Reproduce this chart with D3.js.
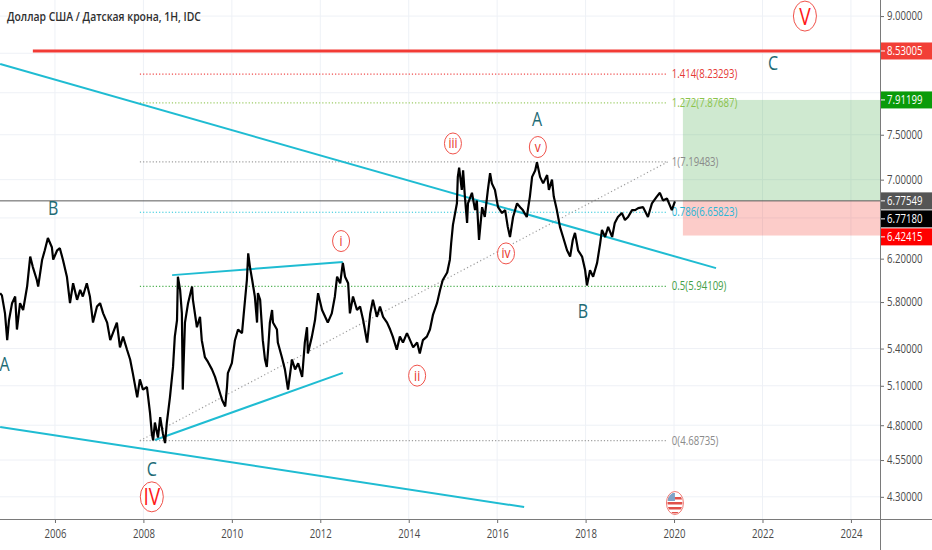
<!DOCTYPE html>
<html>
<head>
<meta charset="utf-8">
<script src="https://cdn.jsdelivr.net/npm/d3@7"></script>
<style>
  body { margin: 0; background: #fff; }
  svg { display: block; font-family: "Open Sans", sans-serif; }
</style>
</head>
<body>
<svg id="chart" width="932" height="550"></svg>
<script>
var title = "Доллар США / Датская крона, 1H, IDC";

// price path (decimal year, DKK per USD)
var priceYears = [
  2004.76, 2004.80, 2004.87, 2004.92, 2004.96, 2005.03, 2005.10, 2005.14, 2005.21, 2005.28,
  2005.37, 2005.44, 2005.50, 2005.59, 2005.62, 2005.71, 2005.77, 2005.84, 2005.93, 2005.96,
  2006.05, 2006.11, 2006.18, 2006.27, 2006.34, 2006.41, 2006.50, 2006.57, 2006.63, 2006.72,
  2006.79, 2006.86, 2006.95, 2007.02, 2007.09, 2007.18, 2007.25, 2007.31, 2007.40, 2007.47,
  2007.54, 2007.63, 2007.70, 2007.76, 2007.86, 2007.92, 2007.99, 2008.08, 2008.15, 2008.19,
  2008.22, 2008.26, 2008.33, 2008.38, 2008.44, 2008.49, 2008.53, 2008.60, 2008.67, 2008.71,
  2008.76, 2008.78, 2008.83, 2008.87, 2008.89, 2008.94, 2009.01, 2009.10, 2009.12, 2009.21,
  2009.28, 2009.32, 2009.39, 2009.46, 2009.55, 2009.62, 2009.69, 2009.78, 2009.85, 2009.89,
  2009.91, 2010.00, 2010.07, 2010.14, 2010.23, 2010.27, 2010.34, 2010.37, 2010.41, 2010.46,
  2010.52, 2010.57, 2010.59, 2010.64, 2010.70, 2010.75, 2010.79, 2010.82, 2010.86, 2010.91,
  2010.93, 2011.02, 2011.04, 2011.13, 2011.20, 2011.27, 2011.36, 2011.43, 2011.50, 2011.59,
  2011.65, 2011.70, 2011.72, 2011.81, 2011.88, 2011.95, 2012.04, 2012.11, 2012.17, 2012.26,
  2012.33, 2012.38, 2012.45, 2012.51, 2012.56, 2012.63, 2012.67, 2012.74, 2012.83, 2012.90,
  2012.97, 2013.06, 2013.13, 2013.19, 2013.28, 2013.35, 2013.42, 2013.51, 2013.58, 2013.64,
  2013.73, 2013.80, 2013.87, 2013.96, 2014.03, 2014.10, 2014.19, 2014.25, 2014.32, 2014.41,
  2014.48, 2014.55, 2014.64, 2014.71, 2014.77, 2014.87, 2014.93, 2014.96, 2015.00, 2015.09,
  2015.11, 2015.14, 2015.20, 2015.23, 2015.27, 2015.32, 2015.34, 2015.43, 2015.50, 2015.54,
  2015.59, 2015.66, 2015.72, 2015.79, 2015.84, 2015.88, 2015.95, 2016.02, 2016.11, 2016.18,
  2016.24, 2016.29, 2016.36, 2016.45, 2016.52, 2016.58, 2016.67, 2016.74, 2016.79, 2016.86,
  2016.90, 2016.97, 2017.04, 2017.13, 2017.17, 2017.24, 2017.28, 2017.35, 2017.42, 2017.49,
  2017.58, 2017.65, 2017.71, 2017.76, 2017.83, 2017.92, 2017.99, 2018.03, 2018.10, 2018.17,
  2018.26, 2018.33, 2018.37, 2018.44, 2018.51, 2018.60, 2018.66, 2018.73, 2018.82, 2018.89,
  2018.96, 2019.05, 2019.12, 2019.19, 2019.30, 2019.41, 2019.50, 2019.61, 2019.68, 2019.75,
  2019.84, 2019.95, 2020.02
];
var priceValues = [
  5.88, 5.86, 5.70, 5.47, 5.64, 5.79, 5.85, 5.56, 5.79, 5.73,
  5.94, 6.22, 6.12, 6.00, 5.94, 6.19, 6.28, 6.40, 6.31, 6.19,
  6.28, 6.30, 6.19, 6.03, 5.79, 5.97, 5.82, 5.91, 5.85, 5.97,
  5.85, 5.62, 5.76, 5.79, 5.70, 5.62, 5.47, 5.53, 5.62, 5.41,
  5.50, 5.39, 5.31, 5.20, 5.01, 5.15, 5.07, 5.09, 4.89, 4.74,
  4.69, 4.82, 4.71, 4.86, 4.74, 4.67, 4.82, 5.01, 5.25, 5.50,
  5.64, 6.03, 5.91, 5.70, 5.07, 5.62, 5.79, 5.94, 5.82, 5.58,
  5.67, 5.47, 5.33, 5.29, 5.23, 5.17, 5.09, 4.99, 4.94, 5.09,
  5.20, 5.28, 5.47, 5.56, 5.53, 5.70, 6.00, 6.25, 6.12, 6.00,
  5.85, 5.62, 5.88, 5.82, 5.47, 5.31, 5.25, 5.39, 5.62, 5.73,
  5.62, 5.56, 5.45, 5.33, 5.23, 5.07, 5.31, 5.23, 5.28, 5.17,
  5.45, 5.58, 5.36, 5.50, 5.64, 5.88, 5.73, 5.67, 5.62, 5.70,
  5.85, 6.03, 5.97, 6.16, 6.03, 5.97, 5.70, 5.85, 5.73, 5.76,
  5.64, 5.45, 5.70, 5.82, 5.67, 5.76, 5.67, 5.62, 5.56, 5.50,
  5.39, 5.50, 5.45, 5.53, 5.47, 5.41, 5.45, 5.36, 5.47, 5.50,
  5.56, 5.69, 5.79, 5.91, 6.00, 6.07, 6.19, 6.35, 6.53, 6.75,
  7.03, 7.13, 6.89, 7.10, 6.82, 6.55, 6.75, 6.86, 6.68, 6.78,
  6.38, 6.71, 6.61, 6.89, 7.07, 6.96, 6.89, 6.71, 6.65, 6.68,
  6.51, 6.41, 6.61, 6.75, 6.71, 6.68, 6.61, 6.82, 7.03, 7.10,
  7.19, 7.03, 6.96, 7.05, 6.89, 7.00, 6.82, 6.68, 6.51, 6.41,
  6.28, 6.22, 6.38, 6.45, 6.28, 6.22, 6.09, 5.95, 6.09, 6.03,
  6.16, 6.35, 6.48, 6.41, 6.51, 6.41, 6.55, 6.61, 6.65, 6.58,
  6.61, 6.68, 6.68, 6.70, 6.71, 6.61, 6.75, 6.82, 6.86, 6.78,
  6.80, 6.68, 6.77
];

var yearTicks = [2006, 2008, 2010, 2012, 2014, 2016, 2018, 2020, 2022, 2024];
var gridPrices = [9.0, 8.5, 8.0, 7.5, 7.0, 6.6, 6.2, 5.8, 5.4, 5.1, 4.8, 4.55, 4.3];
// the 8.5, 8.0 and 6.6 labels sit under the price tags, so only these are written
var priceTicks = [9.0, 7.5, 7.0, 6.2, 5.8, 5.4, 5.1, 4.8, 4.55, 4.3];

// fibonacci extension drawn between the 2008 low and the 2017 high
var fibRatios = ["1.414", "1.272", "1", "0.786", "0.5", "0"];
var fibPrices = [8.23293, 7.87687, 7.19483, 6.65823, 5.94109, 4.68735];
var fibColors = ["#ef4a4a", "#9ccc65", "#9e9e9e", "#26c6da", "#4caf50", "#9e9e9e"];
var fibLabelColors = ["#e53935", "#8bc34a", "#8a8a8a", "#29b6d6", "#43a047", "#8a8a8a"];
var fibAnchorYears = [2007.92, 2019.86];

// trendlines: [year1, price1, year2, price2]
var channelUpper = [2004.76, 8.36, 2020.95, 6.11];
var channelLower = [2004.76, 4.787, 2016.61, 4.233];
var triangleUpper = [2008.65, 6.045, 2012.51, 6.168];
var triangleLower = [2008.26, 4.692, 2012.51, 5.202];

var resistanceLevel = 8.53005, resistanceStart = 2005.50;
var entryPrice = 6.77549, targetPrice = 7.91199, stopPrice = 6.42415;
var positionStart = 2020.20;
var lastPrice = 6.77180;
var eventYear = 2020.02;

// Elliott wave labels
var waveNames = ["A", "B", "C", "A", "B", "C"];
var waveYears = [2004.86, 2005.96, 2008.19, 2016.90, 2017.94, 2022.24];
var wavePrices = [5.27, 6.70, 4.49, 7.68, 5.72, 8.37];

var minorNames = ["i", "ii", "iii", "iv", "v"];
var minorYears = [2012.47, 2014.19, 2015.00, 2016.20, 2016.92];
var minorPrices = [6.37, 5.18, 7.40, 6.25, 7.36];

var majorNames = ["IV", "V"];
var majorYears = [2008.19, 2022.96];
var majorPrices = [4.30, 9.00];

var W = 932, H = 550, plotW = 880, plotH = 519;
var svg = d3.select("#chart");

var x = d3.scaleLinear().domain([2004.757, 2004.757 + plotW / 44.22]).range([0, plotW]);
var y = d3.scaleLog().domain([4.156, 9.225]).range([plotH, 0]);

function squeezed(parent, px, py, str) {
  return parent.append("text")
    .attr("transform", "translate(" + px + "," + py + ") scale(0.8,1)")
    .text(str);
}

svg.append("defs").append("clipPath").attr("id", "plotClip")
  .append("rect").attr("width", plotW).attr("height", plotH);

// grid
var grid = svg.append("g").attr("clip-path", "url(#plotClip)");
grid.selectAll("line.gx").data(yearTicks).enter().append("line")
  .attr("x1", d => x(d)).attr("x2", d => x(d)).attr("y1", 0).attr("y2", plotH)
  .attr("stroke", "#eef1f6");
grid.selectAll("line.gy").data(gridPrices).enter().append("line")
  .attr("x1", 0).attr("x2", plotW).attr("y1", d => y(d)).attr("y2", d => y(d))
  .attr("stroke", "#eef1f6");

var plot = svg.append("g").attr("clip-path", "url(#plotClip)");

// long/short position boxes
plot.append("rect")
  .attr("x", x(positionStart)).attr("y", y(targetPrice))
  .attr("width", plotW - x(positionStart)).attr("height", y(entryPrice) - y(targetPrice))
  .attr("fill", "rgba(76,175,80,0.27)");
plot.append("rect")
  .attr("x", x(positionStart)).attr("y", y(entryPrice))
  .attr("width", plotW - x(positionStart)).attr("height", y(stopPrice) - y(entryPrice))
  .attr("fill", "rgba(244,67,54,0.27)");

// fib levels
fibPrices.forEach(function (p, i) {
  plot.append("line")
    .attr("x1", x(fibAnchorYears[0])).attr("x2", x(fibAnchorYears[1]))
    .attr("y1", y(p)).attr("y2", y(p))
    .attr("stroke", fibColors[i]).attr("stroke-width", 1.2)
    .attr("stroke-dasharray", "1.2,2");
  squeezed(plot, x(fibAnchorYears[1]) + 4, y(p) + 4, fibRatios[i] + "(" + p.toFixed(5) + ")")
    .attr("fill", fibLabelColors[i]).attr("font-size", 12);
});
plot.append("line")
  .attr("x1", x(fibAnchorYears[0])).attr("y1", y(fibPrices[5]))
  .attr("x2", x(fibAnchorYears[1])).attr("y2", y(fibPrices[2]))
  .attr("stroke", "#9e9e9e").attr("stroke-width", 1.2).attr("stroke-dasharray", "1.2,2.5");

// entry line across the chart
plot.append("line")
  .attr("x1", 0).attr("x2", plotW).attr("y1", y(entryPrice)).attr("y2", y(entryPrice))
  .attr("stroke", "#5a5a5a").attr("stroke-width", 1);

// resistance
plot.append("line")
  .attr("x1", x(resistanceStart)).attr("x2", plotW)
  .attr("y1", y(resistanceLevel)).attr("y2", y(resistanceLevel))
  .attr("stroke", "#f23b35").attr("stroke-width", 3);

// trendlines
[channelUpper, channelLower, triangleUpper, triangleLower].forEach(function (t) {
  plot.append("line")
    .attr("x1", x(t[0])).attr("y1", y(t[1]))
    .attr("x2", x(t[2])).attr("y2", y(t[3]))
    .attr("stroke", "#1fbcd2").attr("stroke-width", 2);
});

// price
var line = d3.line()
  .x(function (d, i) { return x(priceYears[i]); })
  .y(function (d) { return y(d); });
plot.append("path")
  .datum(priceValues)
  .attr("d", line)
  .attr("fill", "none")
  .attr("stroke", "#000")
  .attr("stroke-width", 2.2)
  .attr("stroke-linejoin", "bevel");

// wave labels
waveNames.forEach(function (n, i) {
  squeezed(plot, x(waveYears[i]), y(wavePrices[i]) + 7, n)
    .attr("text-anchor", "middle").attr("font-size", 20).attr("fill", "#1e6b75");
});
minorNames.forEach(function (n, i) {
  var g = plot.append("g").attr("transform", "translate(" + x(minorYears[i]) + "," + y(minorPrices[i]) + ")");
  g.append("ellipse").attr("rx", 8.5).attr("ry", 10.5)
    .attr("fill", "#fff").attr("stroke", "#f0524a").attr("stroke-width", 1);
  squeezed(g, 0, 5, n).attr("text-anchor", "middle").attr("font-size", 15).attr("fill", "#e8322b");
});
majorNames.forEach(function (n, i) {
  var g = plot.append("g").attr("transform", "translate(" + x(majorYears[i]) + "," + y(majorPrices[i]) + ")");
  g.append("ellipse").attr("rx", 11.5).attr("ry", 15)
    .attr("fill", "#fff").attr("stroke", "#f0524a").attr("stroke-width", 1);
  squeezed(g, 0, 8.5, n).attr("text-anchor", "middle").attr("font-size", 24).attr("fill", "#ff1a1a");
});

// event flag
var flag = plot.append("g").attr("transform", "translate(" + x(eventYear) + "," + (plotH - 16) + ")");
flag.append("clipPath").attr("id", "flagClip")
  .append("ellipse").attr("rx", 7.5).attr("ry", 10.5);
var fl = flag.append("g").attr("clip-path", "url(#flagClip)");
fl.append("rect").attr("x", -9).attr("y", -12).attr("width", 18).attr("height", 24).attr("fill", "#fff");
[-6, -1, 4, 9].forEach(function (s) {
  fl.append("rect").attr("x", -9).attr("y", s).attr("width", 18).attr("height", 2.5).attr("fill", "#e0504a");
});
fl.append("rect").attr("x", -9).attr("y", -10).attr("width", 9).attr("height", 8).attr("fill", "#7fa3c8");
flag.append("ellipse").attr("rx", 8.5).attr("ry", 11.5)
  .attr("fill", "none").attr("stroke", "#f07a74").attr("stroke-width", 1);

// axes
var yAxis = svg.append("g").attr("transform", "translate(" + plotW + ",0)")
  .call(d3.axisRight(y).tickValues(priceTicks).tickFormat(d3.format(".5f")).tickSize(4).tickPadding(3));
var xAxis = svg.append("g").attr("transform", "translate(0," + plotH + ")")
  .call(d3.axisBottom(x).tickValues(yearTicks).tickFormat(d3.format("d")).tickSize(4).tickPadding(6));

[yAxis, xAxis].forEach(function (a) {
  a.select(".domain").remove();
  a.selectAll(".tick line").attr("stroke", "#6b6b6b");
  a.selectAll(".tick text").attr("fill", "#4a4a4a").attr("font-size", 12)
    .attr("font-family", "'Open Sans', sans-serif");
});
yAxis.selectAll(".tick text").attr("x", 7 / 0.8).attr("transform", "scale(0.8,1)");
xAxis.selectAll(".tick text").attr("transform", "scale(0.8,1)");

svg.append("line").attr("x1", plotW + 0.5).attr("x2", plotW + 0.5).attr("y1", 0).attr("y2", H)
  .attr("stroke", "#7a7a7a");
svg.append("line").attr("x1", 0).attr("x2", W).attr("y1", plotH + 0.5).attr("y2", plotH + 0.5)
  .attr("stroke", "#7a7a7a");

// price labels on the scale
var tags = [
  { v: resistanceLevel, bg: "#f23f36" },
  { v: targetPrice, bg: "#0a9b0a" },
  { v: entryPrice, bg: "#555555" },
  { v: lastPrice, bg: "#000000" },
  { v: stopPrice, bg: "#ff0000" }
];
tags.forEach(function (t) { t.py = y(t.v); });
tags.sort(function (a, b) { return a.py - b.py; });
for (var i = 1; i < tags.length; i++) {
  if (tags[i].py - tags[i - 1].py < 18) tags[i].py = tags[i - 1].py + 18;
}
tags.forEach(function (t) {
  svg.append("rect").attr("x", plotW + 1).attr("y", t.py - 8.5)
    .attr("width", W - plotW - 1).attr("height", 17).attr("fill", t.bg);
  svg.append("line").attr("x1", plotW + 1).attr("x2", plotW + 5).attr("y1", t.py).attr("y2", t.py)
    .attr("stroke", "#fff");
  squeezed(svg, plotW + 7, t.py + 4.5, t.v.toFixed(5))
    .attr("fill", "#fff").attr("font-size", 12);
});

// title
squeezed(svg, 7, 21, title).attr("font-size", 13).attr("fill", "#2f2f2f").attr("font-weight", 600);
</script>
</body>
</html>
